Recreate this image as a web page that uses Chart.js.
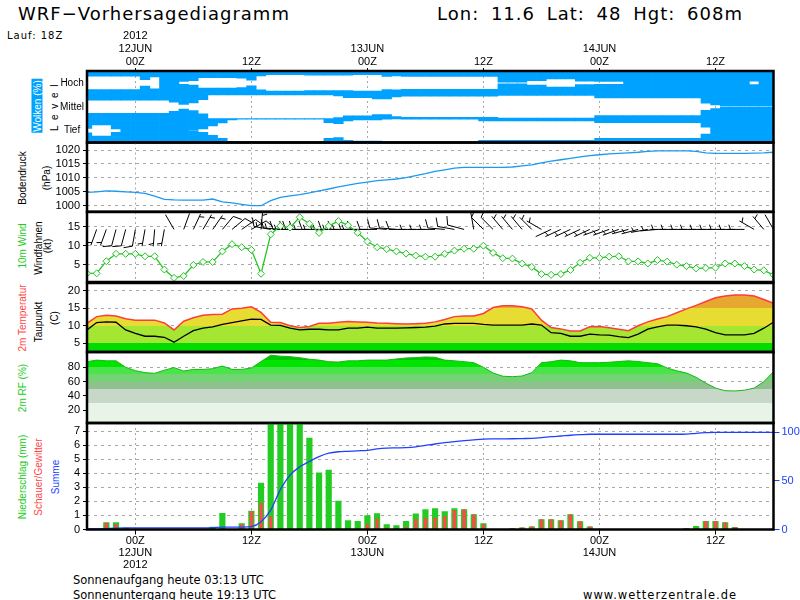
<!DOCTYPE html>
<html><head><meta charset="utf-8"><title>WRF-Vorhersagediagramm</title>
<script src="https://cdn.jsdelivr.net/npm/chart.js@4.4.1/dist/chart.umd.min.js"></script>
<style>
html,body{margin:0;padding:0;background:#fff}
body{width:800px;height:600px;position:relative;overflow:hidden}
canvas{position:absolute;left:0}
.t{position:absolute;white-space:nowrap;color:#000;font-family:'DejaVu Sans',sans-serif;line-height:normal}
.v{position:absolute;white-space:nowrap;font-family:'Liberation Sans',Arial,sans-serif;font-size:10px;line-height:11px;transform:translate(-50%,-50%) rotate(-90deg)}
</style></head><body>
<div class="t" style="left:18px;top:3px;font-size:18px;letter-spacing:1px">WRF−Vorhersagediagramm</div>
<div class="t" style="left:437px;top:3px;font-size:18px;letter-spacing:1px;word-spacing:5px">Lon: 11.6 Lat: 48 Hgt: 608m</div>
<div class="t" style="left:7px;top:29.5px;font-size:10px;letter-spacing:1px">Lauf: 18Z</div>
<div class="t" style="left:73px;top:572.6px;font-size:11.5px">Sonnenaufgang heute 03:13 UTC</div>
<div class="t" style="left:73px;top:587.6px;font-size:11.5px">Sonnenuntergang heute 19:13 UTC</div>
<div class="t" style="left:583px;top:587.6px;font-size:11.5px;letter-spacing:1px">www.wetterzentrale.de</div>

<div class="v" style="left:36.5px;top:105.5px;background:#00a2ff;color:#fff;padding:0 1px">Wolken (%)</div>
<div class="v" style="left:53.5px;top:107px;letter-spacing:1.5px">L e v e l</div>
<div class="v" style="left:22px;top:178px">Bodendruck</div>
<div class="v" style="left:46px;top:178px">(hPa)</div>
<div class="v" style="left:22px;top:246px;color:#22cc22">10m Wind</div>
<div class="v" style="left:37.5px;top:248px">Windfahnen</div>
<div class="v" style="left:47px;top:246px">(kt)</div>
<div class="v" style="left:22px;top:318px;color:#ff4444">2m Temperatur</div>
<div class="v" style="left:37.5px;top:322px">Taupunkt</div>
<div class="v" style="left:53.5px;top:318px">(C)</div>
<div class="v" style="left:22px;top:388px;color:#22cc22">2m RF (%)</div>
<div class="v" style="left:22px;top:476.5px;color:#22cc22">Niederschlag (mm)</div>
<div class="v" style="left:37.5px;top:476.5px;color:#ff4444">Schauer/Gewitter</div>
<div class="v" style="left:55px;top:476.5px;color:#2244ff">Summe</div>

<script>
// ---------------- DATA ----------------
const hours = [-5,-4,-3,-2,-1,0,1,2,3,4,5,6,7,8,9,10,11,12,13,14,15,16,17,18,19,20,21,22,23,24,25,26,27,
  28,29,30,31,32,33,34,35,36,37,38,39,40,41,42,43,44,45,46,47,48,49,50,51,52,53,54,55,56,57,58,59,60,61,62,63,64,65,66];
const tickHours = [0,12,24,36,48,60];
const topTickLabels = [["2012","12JUN","00Z"],["12Z"],["13JUN","00Z"],["12Z"],["14JUN","00Z"],["12Z"]];
const bottomTickLabels = [["00Z","12JUN","2012"],["12Z"],["00Z","13JUN"],["12Z"],["00Z","14JUN"],["12Z"]];

const cloudLevels = ["Tief","Mittel","Hoch"];
const cloudLevelValues = [0.5,1.5,2.5];
const cloudHigh = [44,44,44,44,44,44,73,50,100,100,88,81,56,56,56,56,60,76,41,31,31,31,31,35,35,35,35,35,31,31,31,45,41,
  46,46,46,46,46,46,46,46,46,46,93,93,93,81,81,66,66,66,85,85,88,88,88,
  100,100,100,100,100,100,100,100,100,100,100,100,100,85,100,100];
const cloudMid = [44,44,44,44,44,44,44,44,44,62,81,67,41,1,1,1,1,1,1,1,1,1,1,1,1,1,10,23,23,23,34,35,17,
  12,12,12,12,12,12,12,12,12,12,4,4,4,4,4,4,4,4,4,4,
  26,26,26,26,26,26,26,26,26,26,26,71,85,96,96,96,96,96,96];
const cloudLow = [81,53,53,85,100,100,100,100,100,100,100,97,85,60,35,10,4,4,4,4,4,4,4,4,4,34,41,19,11,11,11,4,2,
  4,4,4,4,4,4,4,4,19,19,19,19,19,19,19,19,19,19,19,19,
  34,34,34,34,34,34,34,34,34,34,34,71,100,100,100,100,100,100,100];

const pressureTicks = [1000,1005,1010,1015,1020];
const pressure = [1004.8,1005.0,1005.3,1005.2,1005.0,1004.8,1004.4,1003.4,1002.3,1002.1,1002.0,1002.0,1002.0,1002.4,1001.4,1001.0,1000.5,1000.0,1000.0,1001.8,1003.0,1003.5,1004.0,1004.6,1005.3,1006.0,1006.8,1007.4,1008.0,1008.5,1009.0,1009.3,1009.6,
  1010.1,1010.8,1011.5,1012.3,1012.9,1013.5,1013.8,1013.8,1013.8,1013.8,1013.8,1013.9,1014.3,1014.7,1015.4,1016.0,1016.5,1017.0,1017.5,1018.0,1018.3,1018.6,1018.8,1019.0,1019.2,1019.5,1019.7,1019.7,1019.7,1019.7,1019.5,1019.0,1018.8,1018.8,1018.8,1018.8,1018.9,1019.0,1019.2];

const windTicks = [5,10,15];
const windSpeed = [2.7,2.7,5.9,7.85,7.85,7.85,7.2,7.2,3.7,1.5,2.0,4.9,5.7,5.7,8.5,10.4,9.6,8.9,2.6,13.0,15.2,14.8,17.5,15.8,13.4,15.2,16.5,15.4,13.4,11.1,9.6,9.1,8.5,
  7.9,7.4,7.1,7.1,7.85,8.7,9.2,9.2,10.0,8.1,6.7,6.6,5.25,4.4,2.5,2.3,2.5,3.6,5.5,6.8,6.8,7.1,7.2,5.85,5.85,5.3,6.2,5.8,5.0,4.6,4.0,4.1,4.2,5.3,5.3,4.6,3.7,3.5,2.3];
const windDir = [270,200,200,195,195,190,190,185,190,330,20,25,30,35,40,50,55,60,5,
  280,275,270,270,270,270,270,270,270,270,270,270,275,275,
  270,270,270,270,275,280,285,350,315,315,320,320,320,315,300,
  245,245,245,245,245,250,250,250,255,255,260,265,
  270,270,270,270,270,270,270,270,270,300,320,330];

const tempTicks = [5,10,15,20];
const temp = [10.7,12.6,13.0,12.8,12.0,11.6,11.6,11.6,10.8,8.8,11.3,12.3,13.0,13.2,13.3,14.8,15.0,15.4,13.8,11.0,10.9,10.0,9.5,9.8,10.7,10.7,11.0,11.2,11.1,11.0,10.8,10.7,10.6,
  10.5,10.6,10.7,11.1,11.8,12.6,12.8,12.8,13.5,15.2,15.7,15.7,15.4,14.8,11.6,9.5,9.1,8.5,8.5,9.7,9.8,9.4,9.0,8.6,10.0,11.1,11.9,12.6,13.7,14.8,15.8,16.9,18.0,18.5,18.8,18.8,18.5,17.5,16.4];
const dewpoint = [8.8,10.9,11.1,11.0,8.8,7.8,7.0,7.0,6.7,5.3,7.0,8.6,9.3,9.7,10.4,10.9,11.4,11.9,11.8,10.2,10.1,9.3,8.8,9.0,9.0,8.8,8.8,9.3,9.3,9.6,9.3,9.3,9.3,
  9.4,9.5,9.6,9.9,10.5,10.7,10.7,10.7,10.4,10.2,10.2,10.2,10.2,10.5,10.2,8.0,7.8,7.0,7.0,7.6,7.4,7.3,6.9,6.6,7.6,9.0,9.7,10.2,10.2,10.0,9.7,9.0,8.0,7.4,7.4,7.4,7.8,9.3,11.0];

const rhTicks = [20,40,60,80];
const rh = [87.8,90,89,89,80,75.3,72.5,71.6,76,79.5,74.8,77,77,78,81.8,77,77,79,88,96.8,95.5,94.8,93.4,91.2,90,87.8,87.3,89,89,90,90,90,91.6,
  93,93.5,94.4,94,90,89,87.8,86.4,80,72,67.5,66.9,67.8,72.4,86.4,87.8,90,89,86.4,86.4,86.4,87,88,89,88,86.4,85,79,75,72,66,58,51,47.3,47,48,51,60,73.8];

const precipTicks = [0,1,2,3,4,5,6,7];
const sumTicks = [0,50,100];
const precip = [0,0,0.52,0.52,0.12,0,0,0,0,0,0,0,0,0.19,1.17,0,0.45,1.33,3.33,11,17,15,9,6.52,4.05,4.24,2.05,0.66,0.6,1.02,1.15,0.37,0.31,
  0.6,1.14,1.44,1.51,1.3,1.51,1.44,1.09,0.44,0,0,0.09,0.15,0.22,0.73,0.73,0.66,1.09,0.59,0.22,0,0,0,0,0,0,0,0,0,0.1,0.24,0.6,0.6,0.52,0.17,0,0,0,0];
const showers = [0,0,0.48,0.38,0,0,0,0,0,0,0,0,0,0,0,0,0.38,1.29,1.9,0.95,0,0,0,0,0,0,0,0,0,0.4,0.76,0.12,0,
  0.17,0.73,0.83,0.83,0.94,1.37,1.44,1.09,0.36,0,0,0.09,0.15,0.22,0.73,0.73,0.66,1.09,0.59,0.22,0,0,0,0,0,0,0,0,0,0,0.1,0.6,0.6,0.52,0.17,0,0,0,0];
const precipSum = [0.5,0.5,1.0,1.5,1.7,1.7,1.7,1.7,1.7,1.7,1.7,1.7,1.7,1.9,2.4,2.4,2.5,3.0,8,20,41,56,64.5,70,75,78.5,80,80.5,81,81.5,83,83.8,84,
  84.2,85,86.5,88,89.3,90.5,91.5,92.3,93,93.2,93.3,93.4,93.6,93.8,94.5,95.5,96.2,97,97.6,98,98,98,98,98,98,98,98,98,98,98.2,99,99.6,100,100,100,100,100,100,100];

// ---------------- STYLE ----------------
const FONT = "'Liberation Sans', Arial, sans-serif";
const GRID = '#a8a8a8';
const CLOUD_BLUE = '#00a2ff';
const BARB_LEVEL = 14.3;
const RIGHT_PAD = 26.5;
const tempBands = [[-10,5,'#00dc00'],[5,10,'#a4e632'],[10,15,'#e6dc32'],[15,20,'#e6a82e'],[20,40,'#e67e2e']];
const rhBands = [[-10,30,'#e8f4e8'],[30,50,'#c8d8c8'],[50,60,'#90c090'],[60,70,'#74d474'],[70,80,'#4ae44a'],[80,90,'#00e400'],[90,120,'#00c400']];

const framePlugin = {
  id:'frame',
  afterDraw(chart){
    const {ctx, chartArea:a} = chart;
    ctx.save(); ctx.strokeStyle='#000'; ctx.lineWidth=2.5;
    ctx.strokeRect(a.left, a.top, a.right-a.left, a.bottom-a.top);
    ctx.restore();
  }
};

const barbPlugin = {
  id:'barbs',
  beforeDatasetsDraw(chart){
    const {ctx, chartArea:a, scales:{x, y}} = chart;
    ctx.save();
    ctx.beginPath(); ctx.rect(a.left, a.top, a.right-a.left, a.bottom-a.top); ctx.clip();
    ctx.strokeStyle='#000'; ctx.lineWidth=1;
    const y0 = y.getPixelForValue(BARB_LEVEL);
    hours.forEach((h,i)=>{
      const x0 = x.getPixelForValue(h);
      const d = windDir[i]*Math.PI/180;
      const ux = Math.sin(d), uy = -Math.cos(d);
      const px = -uy, py = ux;
      const fx = px*0.94 + ux*0.34, fy = py*0.94 + uy*0.34;
      const L = 17;
      const tx = x0 + ux*L, ty = y0 + uy*L;
      ctx.beginPath(); ctx.moveTo(x0,y0); ctx.lineTo(tx,ty);
      let n5 = Math.round(windSpeed[i]/5), pos = 0;
      while (n5 >= 2) {
        const bx = tx - ux*pos, by = ty - uy*pos;
        ctx.moveTo(bx,by); ctx.lineTo(bx+fx*9, by+fy*9);
        pos += 3; n5 -= 2;
      }
      if (n5 === 1) {
        if (pos === 0) pos = 3;
        const bx = tx - ux*pos, by = ty - uy*pos;
        ctx.moveTo(bx,by); ctx.lineTo(bx+fx*5, by+fy*5);
      }
      ctx.stroke();
    });
    ctx.restore();
  }
};

function bandGradient(bands){
  return (context)=>{
    const chart = context.chart;
    const {ctx, chartArea, scales} = chart;
    if (!chartArea) return null;
    const ys = scales.y;
    const y0 = chartArea.bottom, y1 = chartArea.top, hgt = y0 - y1;
    const g = ctx.createLinearGradient(0, y0, 0, y1);
    const cl = v => Math.min(1, Math.max(0, v));
    bands.forEach(([lo,hi,col])=>{
      g.addColorStop(cl((y0 - ys.getPixelForValue(lo))/hgt), col);
      g.addColorStop(cl((y0 - ys.getPixelForValue(hi))/hgt), col);
    });
    return g;
  };
}

function xAxis(mode, z){
  const show = mode==='top' || mode==='bottom';
  const labels = mode==='top' ? topTickLabels : bottomTickLabels;
  return {
    type:'linear', min:hours[0], max:hours[hours.length-1], bounds:'data', offset:false,
    position: mode==='top' ? 'top' : 'bottom',
    display: mode !== 'none',
    z: z || 0,
    afterBuildTicks: s => { s.ticks = tickHours.map(v=>({value:v})); },
    afterFit: s => { s.height = show ? 46 : 0; s.paddingLeft = 0; s.paddingRight = 0; },
    grid: { offset:false, color:GRID, lineWidth:1, drawTicks:show, tickLength: mode==='top'?3:5, tickColor:'#000', tickWidth:1, tickBorderDash:[] },
    border: { display:false, dash:[2,3] },
    ticks: { display:show, autoSkip:false, maxRotation:0, minRotation:0, padding:0, color:'#000',
      font:{family:FONT, size:11, lineHeight: mode==='top' ? '13px' : '12px'},
      callback:(v,i)=>labels[i] }
  };
}

function yAxis(min, max, ticksArr, extra){
  return Object.assign({
    type:'linear', min, max, bounds:'data', position:'left',
    afterBuildTicks: s => { s.ticks = ticksArr.map(v=>({value:v})); },
    afterFit: s => { s.width = 87; s.paddingTop = 0; s.paddingBottom = 0; },
    grid: { color:GRID, lineWidth:1, drawTicks:true, tickLength:4, tickColor:'#000', tickWidth:1, tickBorderDash:[] },
    border: { display:false, dash:[3,4] },
    ticks: { autoSkip:false, padding:3, color:'#000', font:{family:FONT, size:11}, callback:v=>String(v) }
  }, extra || {});
}

function panel(areaTop, areaBottom, axisTopH, axisBottomH, rightPad, config){
  const ct = Math.floor(areaTop - axisTopH - 4);
  const cb = Math.ceil(areaBottom + axisBottomH + 4);
  const cv = document.createElement('canvas');
  cv.width = 800; cv.height = cb - ct;
  cv.style.top = ct + 'px'; cv.style.width = '800px'; cv.style.height = (cb - ct) + 'px';
  document.body.appendChild(cv);
  config.options = Object.assign({
    responsive:false, animation:false, events:[],
    plugins:{legend:{display:false}, tooltip:{enabled:false}},
    layout:{padding:{top: areaTop - axisTopH - ct, bottom: cb - areaBottom - axisBottomH, left:0, right:rightPad}}
  }, config.options);
  config.plugins = (config.plugins || []).concat([framePlugin]);
  return new Chart(cv, config);
}

// ---------------- CLOUDS ----------------
const clr = c => (100 - c) / 100;
const cloudBar = (fn) => ({
  type:'bar', data: hours.map((h,i)=>({x:h, y:fn(i)})),
  backgroundColor: CLOUD_BLUE, borderWidth:0, grouped:false, barPercentage:1, categoryPercentage:1
});
panel(71, 142.5, 46, 0, RIGHT_PAD, {
  type:'bar',
  data:{ datasets:[
    cloudBar(i=>[0, 0.5 - clr(cloudLow[i])/2]),
    cloudBar(i=>[0.5 + clr(cloudLow[i])/2, 1.5 - clr(cloudMid[i])/2]),
    cloudBar(i=>[1.5 + clr(cloudMid[i])/2, 2.5 - clr(cloudHigh[i])/2]),
    cloudBar(i=>[2.5 + clr(cloudHigh[i])/2, 3])
  ]},
  options:{ scales:{
    x: xAxis('top', 1),
    y: yAxis(0, 3, cloudLevelValues, {
      grid:{drawOnChartArea:false, drawTicks:false},
      ticks:{autoSkip:false, padding:3, crossAlign:'center', color:'#000', font:{family:FONT, size:10}, callback:(v,i)=>cloudLevels[i]}
    })
  }}
});

// ---------------- PRESSURE ----------------
panel(142.5, 211.7, 0, 0, RIGHT_PAD, {
  type:'line',
  data:{ datasets:[{ data: hours.map((h,i)=>({x:h, y:pressure[i]})), borderColor:'#1a9af0', borderWidth:1.3, pointRadius:0, fill:false }]},
  options:{ scales:{ x: xAxis('grid'), y: yAxis(997.85, 1022.7, pressureTicks) } }
});

// ---------------- WIND ----------------
panel(211.7, 283, 0, 0, RIGHT_PAD, {
  type:'line',
  data:{ datasets:[{ data: hours.map((h,i)=>({x:h, y:windSpeed[i]})), borderColor:'#22c322', borderWidth:1.3,
    pointStyle:'rectRot', pointRadius:3.5, pointBorderColor:'#22c322', pointBackgroundColor:'#ffffff', pointBorderWidth:1, fill:false }]},
  options:{ scales:{ x: xAxis('grid'), y: yAxis(0.41, 18.9, windTicks) } },
  plugins:[barbPlugin]
});

// ---------------- TEMPERATURE ----------------
panel(283, 352, 0, 0, RIGHT_PAD, {
  type:'line',
  data:{ datasets:[
    { data: hours.map((h,i)=>({x:h, y:dewpoint[i]})), borderColor:'#000', borderWidth:1.3, pointRadius:0, fill:false, order:0 },
    { data: hours.map((h,i)=>({x:h, y:temp[i]})), borderColor:'#ff3c3c', borderWidth:1.5, pointRadius:0, fill:'start',
      backgroundColor: bandGradient(tempBands), order:1 }
  ]},
  options:{ scales:{ x: xAxis('none'), y: yAxis(2.5, 22.2, tempTicks, {z:1}) } }
});

// ---------------- RELATIVE HUMIDITY ----------------
panel(352, 423, 0, 0, RIGHT_PAD, {
  type:'line',
  data:{ datasets:[
    { data: hours.map((h,i)=>({x:h, y:rh[i]})), borderColor:'#1cb41c', borderWidth:1, pointRadius:0, fill:'start',
      backgroundColor: bandGradient(rhBands) }
  ]},
  options:{ scales:{ x: xAxis('none'), y: yAxis(2.3, 101.3, rhTicks, {z:1}) } }
});

// ---------------- PRECIPITATION ----------------
panel(423, 529.5, 0, 46, 0, {
  type:'bar',
  data:{ datasets:[
    { type:'line', data: hours.map((h,i)=>({x:h, y:precipSum[i]})), yAxisID:'y2', borderColor:'#2040ff', borderWidth:1.3,
      pointRadius:0, fill:false, cubicInterpolationMode:'monotone', order:0 },
    { type:'bar', data: hours.map((h,i)=>({x:h, y:showers[i]})), backgroundColor:'#ff4848', borderWidth:0,
      grouped:false, barPercentage:0.34, categoryPercentage:1, order:1 },
    { type:'bar', data: hours.map((h,i)=>({x:h, y:precip[i]})), backgroundColor:'#22cc22', borderWidth:0,
      grouped:false, barPercentage:0.64, categoryPercentage:1, order:2 }
  ]},
  options:{ scales:{
    x: xAxis('bottom', 1),
    y: yAxis(0, 7.57, precipTicks, {z:1}),
    y2: { type:'linear', position:'right', min:0, max:109.6, bounds:'data',
      afterBuildTicks: s => { s.ticks = sumTicks.map(v=>({value:v})); },
      afterFit: s => { s.width = RIGHT_PAD; s.paddingTop = 0; s.paddingBottom = 0; },
      grid:{ drawOnChartArea:false, drawTicks:true, tickLength:6, tickColor:'#2040ff', tickWidth:1, tickBorderDash:[] },
      border:{ display:false },
      ticks:{ autoSkip:false, padding:2, color:'#2040ff', font:{family:FONT, size:11}, callback:v=>String(v) } }
  }}
});
</script>
</body></html>
